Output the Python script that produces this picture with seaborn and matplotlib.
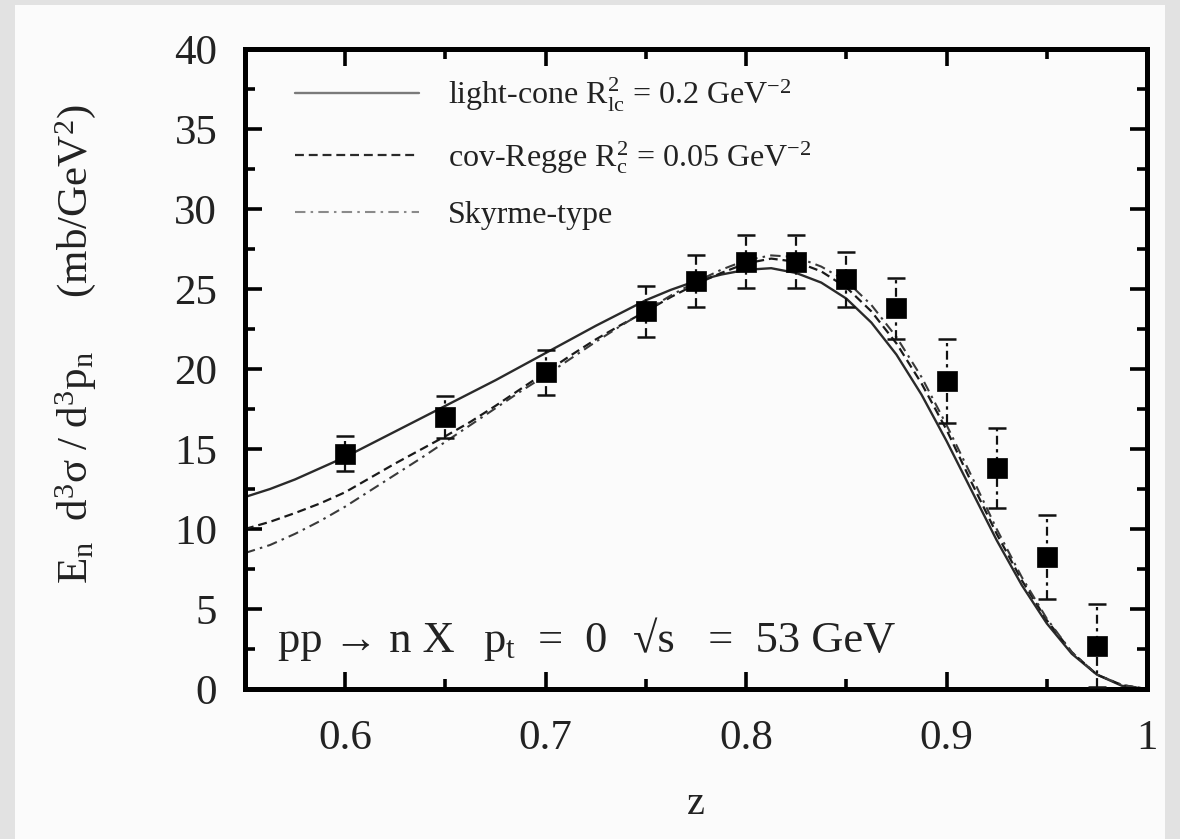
import numpy as np
import pandas as pd
import matplotlib
matplotlib.use("Agg")
import matplotlib.pyplot as plt
import seaborn as sns
from matplotlib.patches import Rectangle

# ---------------- data ----------------
z_data = [0.6, 0.65, 0.7, 0.75, 0.775, 0.8, 0.825, 0.85, 0.875, 0.9, 0.925, 0.95, 0.975]
y_data = [14.7, 17.0, 19.8, 23.6, 25.5, 26.7, 26.7, 25.6, 23.8, 19.25, 13.8, 8.25, 2.7]
y_err = [1.1, 1.3, 1.4, 1.6, 1.6, 1.65, 1.65, 1.7, 1.9, 2.6, 2.5, 2.6, 2.6]

z_curve = [0.55, 0.5625, 0.575, 0.5875, 0.6, 0.6125, 0.625, 0.6375, 0.65, 0.6625,
           0.675, 0.6875, 0.7, 0.7125, 0.725, 0.7375, 0.75, 0.7625, 0.775, 0.7875,
           0.8, 0.8125, 0.825, 0.8375, 0.85, 0.8625, 0.875, 0.8875, 0.9, 0.9125,
           0.925, 0.9375, 0.95, 0.9625, 0.975, 0.9875, 1.0]
light_cone = [12.0, 12.5, 13.1, 13.8, 14.5, 15.3, 16.1, 16.9, 17.7, 18.5,
              19.3, 20.15, 21.0, 21.85, 22.7, 23.5, 24.3, 24.95, 25.5, 25.9,
              26.2, 26.3, 26.0, 25.4, 24.4, 22.9, 20.9, 18.4, 15.5, 12.4,
              9.3, 6.5, 4.1, 2.2, 0.9, 0.2, 0.0]
cov_regge = [10.0, 10.45, 11.0, 11.6, 12.3, 13.2, 14.1, 14.95, 15.8, 16.7,
             17.7, 18.75, 19.8, 20.85, 21.85, 22.75, 23.6, 24.5, 25.3, 26.0,
             26.6, 26.9, 26.7, 26.1, 25.1, 23.6, 21.6, 19.1, 16.2, 12.9,
             9.7, 6.8, 4.3, 2.3, 0.9, 0.25, 0.0]
skyrme = [8.5, 9.0, 9.7, 10.5, 11.4, 12.4, 13.4, 14.4, 15.45, 16.5,
          17.55, 18.6, 19.6, 20.65, 21.7, 22.7, 23.65, 24.6, 25.45, 26.2,
          26.8, 27.1, 27.0, 26.4, 25.5, 24.0, 22.0, 19.5, 16.5, 13.3,
          10.0, 7.0, 4.4, 2.3, 0.9, 0.25, 0.0]

labels = [r"light-cone $\mathrm{R^2_{lc}}$ = 0.2 GeV$^{-2}$",
          r"cov-Regge $\mathrm{R^2_c}$ = 0.05 GeV$^{-2}$",
          "Skyrme-type"]
x_ticks = [0.6, 0.7, 0.8, 0.9, 1.0]
x_ticklabels = ["0.6", "0.7", "0.8", "0.9", "1"]
y_ticks = [0, 5, 10, 15, 20, 25, 30, 35, 40]

# ---------------- style ----------------
sns.set_theme(style="ticks")
plt.rcParams["font.family"] = ["Liberation Serif", "DejaVu Serif"]
plt.rcParams["mathtext.fontset"] = "custom"
plt.rcParams["mathtext.rm"] = "Liberation Serif"
plt.rcParams["mathtext.it"] = "Liberation Serif:italic"
plt.rcParams["mathtext.bf"] = "Liberation Serif:bold"

BG = "#fbfbfb"
TXT = "#222222"
fig = plt.figure(figsize=(11.8, 8.39), dpi=100, facecolor="#e2e2e2")
fig.patches.append(Rectangle((15 / 1180, 0), (1165 - 15) / 1180, (839 - 5) / 839,
                             transform=fig.transFigure, facecolor=BG,
                             edgecolor="none", zorder=-10))
ax = fig.add_axes([245 / 1180, 1 - 689 / 839, (1147 - 245) / 1180, (689 - 49) / 839])
ax.set_facecolor(BG)

df = pd.DataFrame({"z": z_curve, "lc": light_cone, "cr": cov_regge, "sk": skyrme})
sns.lineplot(data=df, x="z", y="lc", ax=ax, color="#2a2a2a", lw=1.7,
             label=labels[0])
sns.lineplot(data=df, x="z", y="cr", ax=ax, color="#1a1a1a", lw=1.6,
             label=labels[1])
sns.lineplot(data=df, x="z", y="sk", ax=ax, color="#3a3a3a", lw=1.5,
             label=labels[2])
lines = ax.get_lines()
lines[1].set_dashes([4, 2.2])
lines[2].set_dashes([5, 2.5, 1.2, 2.5])

# error bars
eb = ax.errorbar(z_data, y_data, yerr=y_err, fmt="none", ecolor="#111111",
                 elinewidth=1.6, capsize=6.5, capthick=1.8, zorder=4)
eb[2][0].set_linestyle((0, (4, 2, 1.5, 2)))

dfp = pd.DataFrame({"z": z_data, "y": y_data})
sns.scatterplot(data=dfp, x="z", y="y", ax=ax, marker="s", s=215,
                color="black", edgecolor="black", linewidth=0.5, zorder=5,
                legend=False)

ax.set_xlim(0.55, 1.0)
ax.set_ylim(0, 40)
ax.set_xticks(x_ticks)
ax.set_xticklabels(x_ticklabels)
ax.set_xticks([0.65, 0.75, 0.85, 0.95], minor=True)
ax.set_yticks(y_ticks)
ax.set_yticks([2.5, 7.5, 12.5, 17.5, 22.5, 27.5, 32.5, 37.5], minor=True)

for s in ax.spines.values():
    s.set_linewidth(3.6)
    s.set_color("black")
ax.tick_params(which="both", direction="in", top=True, right=True, colors="black",
               labelcolor=TXT)
ax.tick_params(which="major", length=12, width=2.6, labelsize=31, pad=20)
ax.tick_params(which="minor", length=7, width=2.6)
ax.tick_params(axis="x", which="major", pad=22)

ax.set_xlabel("z", fontsize=29, color=TXT, labelpad=20)
ax.set_ylabel(r"$\mathrm{E_n\ \ d^3\sigma\ /\ d^3p_n}$     (mb/GeV$^2$)", fontsize=31,
              color=TXT)
ax.yaxis.set_label_coords(-0.163, 0.539)

leg = ax.legend(loc="upper left", bbox_to_anchor=(0.055, 0.958), frameon=False,
                fontsize=23, handlelength=3.9, handletextpad=0.9,
                labelspacing=0.78, borderpad=0, borderaxespad=0)
for t in leg.get_texts():
    t.set_color(TXT)
leg_lines = leg.get_lines()
leg_lines[0].set_color("#7a7a7a")
leg_lines[1].set_color("#2a2a2a")
leg_lines[2].set_color("#8a8a8a")

ax.text(0.5665, 2.3, "pp → n X", fontsize=32, color=TXT, ha="left", va="baseline")
ax.text(0.6685, 2.3, r"$\mathrm{p_t}$  =  0", fontsize=32, color=TXT, ha="left",
        va="baseline")
ax.text(0.7435, 2.3, "√s   =  53 GeV", fontsize=32, color=TXT, ha="left",
        va="baseline")

fig.savefig("out.png", dpi=100, facecolor=fig.get_facecolor())
